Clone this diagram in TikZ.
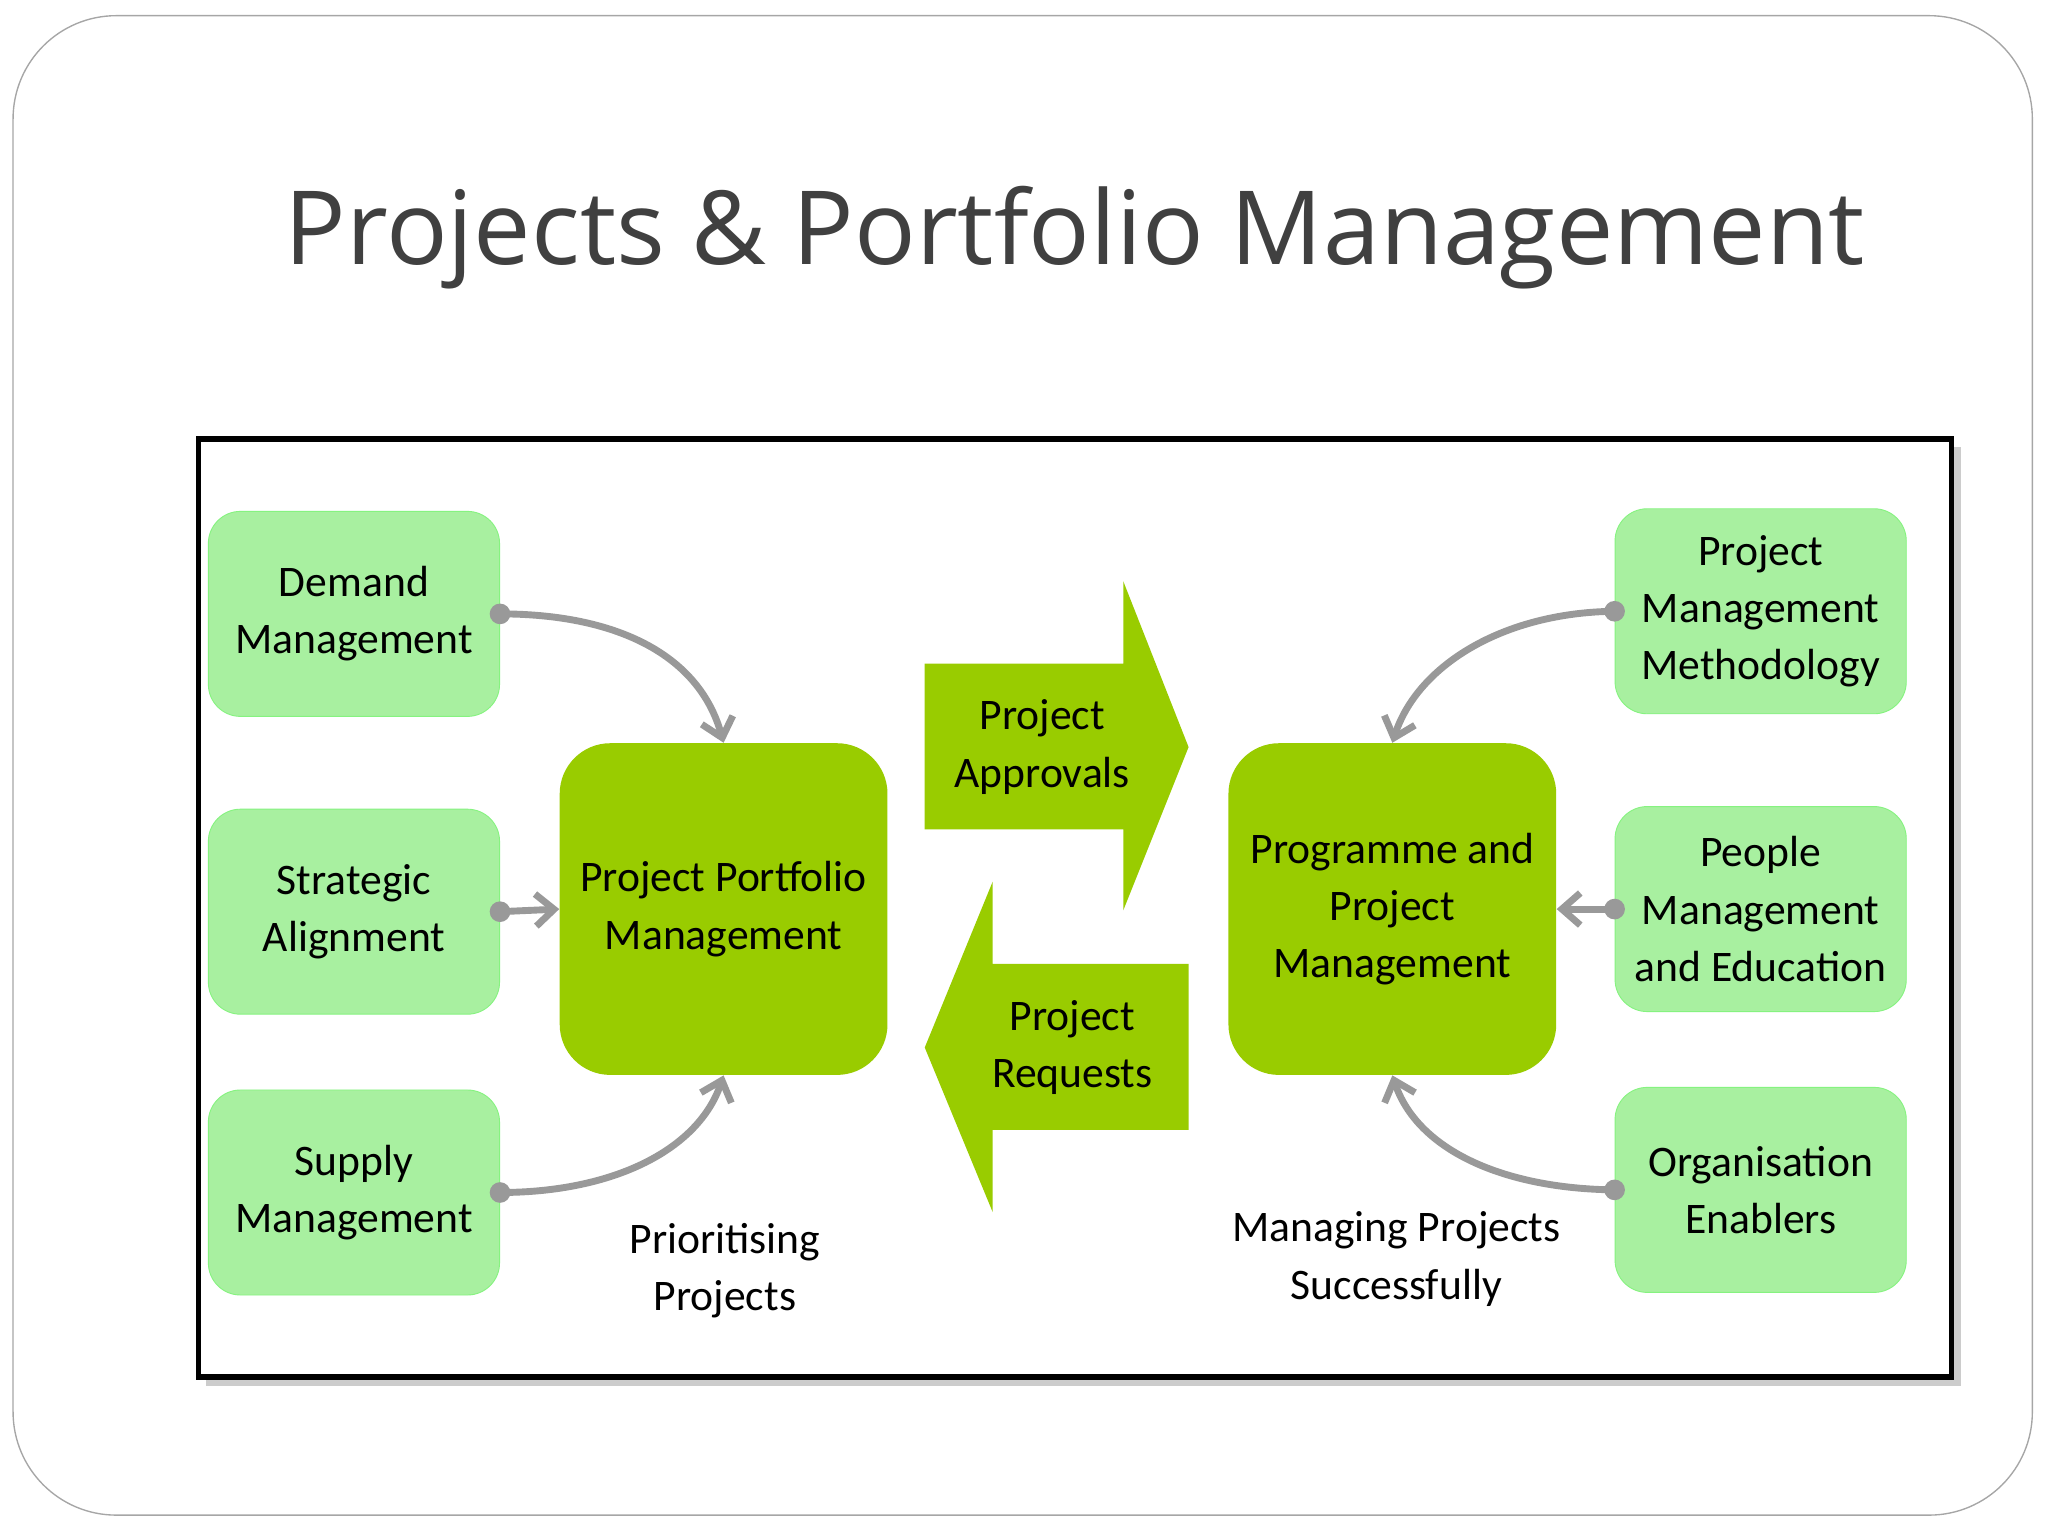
\documentclass[tikz,border=0pt]{standalone}
\usepackage{fontspec}
\setmainfont{Carlito}
\newfontfamily\titlefont{Open Sans}
\usetikzlibrary{arrows.meta,patterns}
\definecolor{lgreen}{HTML}{A8F0A0}
\definecolor{dgreen}{HTML}{99CC00}
\definecolor{conn}{HTML}{999999}
\tikzset{
 side/.style={draw=lgreen!80!green, fill=lgreen, rounded corners=14pt, minimum width=4.46cm, minimum height=3.14cm, align=center, font=\fontsize{19}{25}\selectfont, inner sep=0pt},
 core/.style={fill=dgreen, rounded corners=22pt, minimum width=5.02cm, minimum height=5.08cm, align=center, font=\fontsize{19}{25}\selectfont, inner sep=0pt},
 conn/.style={draw=conn, line width=3pt, -{Straight Barb[length=8pt,width=14pt]}},
 dotc/.style={circle, fill=conn, inner sep=0pt, minimum size=9pt},
 lab/.style={align=center, font=\fontsize{19}{25}\selectfont}
}
\begin{document}
\begin{tikzpicture}[x=0.02cm,y=-0.02cm]
\useasboundingbox (0,0) rectangle (1568,1176);
\draw[gray!70, line width=0.6pt, rounded corners=45pt] (10,12) rectangle (1556,1160);
\node[font=\titlefont\fontsize{44.6}{52}\selectfont, text=black!75] (title) at (823,182) {Projects \& Portfolio Management};
\fill[gray!40] (158,342) rectangle (1501,1061);
\draw[line width=2.5pt, fill=white] (152,336) rectangle (1494,1054);
% side boxes
\node[side] (dm) at (271,470) {Demand\\Management};
\node[side] (sa) at (271,698) {Strategic\\Alignment};
\node[side] (sm) at (271,913) {Supply\\Management};
\node[side] (pmm) at (1348,468) {Project\\Management\\Methodology};
\node[side] (pme) at (1348,696) {People\\Management\\and Education};
\node[side] (oe) at (1348,911) {Organisation\\Enablers};
% cores
\node[core] (ppm) at (554,696) {Project Portfolio\\Management};
\node[core] (ppj) at (1066,696) {Programme and\\Project\\Management};
% big arrows
\fill[dgreen] (708,508) -- (860,508) -- (860,445) -- (910,572) -- (860,697) -- (860,635) -- (708,635) -- cycle;
\node[lab] (pa) at (798,572) {Project\\Approvals};
\fill[dgreen] (910,738) -- (760,738) -- (760,675) -- (708,802) -- (760,928) -- (760,865) -- (910,865) -- cycle;
\node[lab] (pr) at (821,802) {Project\\Requests};
% connectors
\node[dotc] (d1) at (dm.east) {};
\node[dotc] (d2) at (sa.east) {};
\node[dotc] (d3) at (sm.east) {};
\node[dotc] (d4) at (pmm.west) {};
\node[dotc] (d5) at (pme.west) {};
\node[dotc] (d6) at (oe.west) {};
\draw[conn] (d1.center) .. controls (470,470) and (535,500) .. (ppm.north);
\draw[conn] (d2.center) -- (ppm.west);
\draw[conn] (d3.center) .. controls (470,913) and (535,880) .. (ppm.south);
\draw[conn] (d4.center) .. controls (1150,469) and (1085,510) .. (ppj.north);
\draw[conn] (d5.center) -- (ppj.east);
\draw[conn] (d6.center) .. controls (1150,910) and (1085,880) .. (ppj.south);
\node[lab] (l1) at (555,973) {Prioritising\\Projects};
\node[lab] (l2) at (1069,964) {Managing Projects\\Successfully};
\end{tikzpicture}
\end{document}
